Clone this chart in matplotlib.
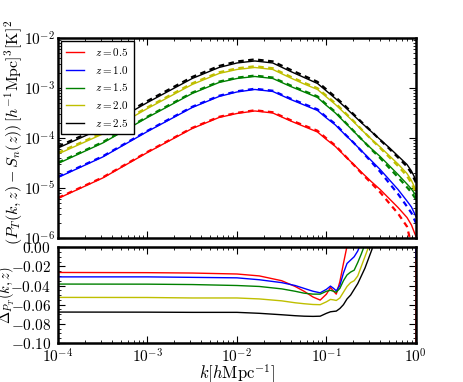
import numpy as np
import matplotlib
matplotlib.use("Agg")
import matplotlib.pyplot as plt
from matplotlib.ticker import FuncFormatter, LogLocator, MultipleLocator, NullFormatter

plt.rcParams["mathtext.fontset"] = "cm"
plt.rcParams["xtick.direction"] = "in"
plt.rcParams["ytick.direction"] = "in"
plt.rcParams["xtick.top"] = True
plt.rcParams["ytick.right"] = True

redshifts = ["0.5", "1.0", "1.5", "2.0", "2.5"]
colors = ["r", "b", "g", "y", "k"]

# top panel, log10(k) and log10(P_T - S_n)
logk_top = [-4.0, -3.5, -3.0, -2.5, -2.2, -2.0, -1.8, -1.6, -1.4, -1.25, -1.1, -1.0,
            -0.9, -0.8, -0.7, -0.6, -0.5, -0.4, -0.3, -0.2, -0.1, -0.05, 0.0]

p_z05 = [-5.21, -4.80, -4.29, -3.81, -3.59, -3.51, -3.46, -3.50, -3.66, -3.77, -3.88, -4.03,
         -4.17, -4.35, -4.52, -4.70, -4.87, -5.03, -5.21, -5.39, -5.59, -5.74, -5.97]
p_z10 = [-4.79, -4.38, -3.87, -3.39, -3.17, -3.08, -3.03, -3.07, -3.23, -3.34, -3.45, -3.60,
         -3.74, -3.92, -4.09, -4.27, -4.45, -4.63, -4.83, -5.03, -5.26, -5.38, -5.57]
p_z15 = [-4.51, -4.10, -3.59, -3.11, -2.89, -2.81, -2.77, -2.81, -2.97, -3.08, -3.19, -3.35,
         -3.50, -3.68, -3.86, -4.04, -4.21, -4.37, -4.55, -4.73, -4.92, -5.02, -5.15]
p_z20 = [-4.32, -3.92, -3.41, -2.93, -2.71, -2.63, -2.59, -2.63, -2.80, -2.92, -3.03, -3.18,
         -3.33, -3.50, -3.67, -3.85, -4.02, -4.18, -4.35, -4.52, -4.71, -4.85, -5.04]
p_z25 = [-4.20, -3.80, -3.29, -2.81, -2.59, -2.50, -2.46, -2.50, -2.67, -2.79, -2.91, -3.06,
         -3.21, -3.37, -3.54, -3.71, -3.87, -4.03, -4.19, -4.36, -4.53, -4.66, -4.84]

# reference (dashed) curves
pref_z05 = [-5.198, -4.788, -4.278, -3.798, -3.577, -3.497, -3.446, -3.485, -3.643, -3.749, -3.855, -4.009,
            -4.150, -4.341, -4.529, -4.72, -4.90, -5.085, -5.30, -5.51, -5.77, -6.14, -6.67]
pref_z10 = [-4.776, -4.366, -3.856, -3.376, -3.156, -3.066, -3.015, -3.055, -3.213, -3.32, -3.428, -3.582,
            -3.72, -3.911, -4.087, -4.279, -4.475, -4.675, -4.90, -5.12, -5.37, -5.50, -5.70]
pref_z15 = [-4.493, -4.083, -3.573, -3.093, -2.873, -2.793, -2.752, -2.791, -2.95, -3.06, -3.168, -3.33,
            -3.479, -3.667, -3.851, -4.038, -4.225, -4.40, -4.595, -4.785, -4.985, -5.09, -5.225]
pref_z20 = [-4.297, -3.897, -3.387, -2.907, -2.687, -2.607, -2.566, -2.605, -2.775, -2.895, -3.004, -3.156,
            -3.305, -3.48, -3.655, -3.843, -4.025, -4.20, -4.38, -4.56, -4.76, -4.905, -5.10]
pref_z25 = [-4.17, -3.77, -3.26, -2.78, -2.56, -2.47, -2.429, -2.468, -2.637, -2.757, -2.877, -3.03,
            -3.18, -3.343, -3.52, -3.695, -3.863, -4.04, -4.21, -4.39, -4.57, -4.705, -4.89]

# bottom panel, relative difference
logk_bot = [-4.0, -3.0, -2.5, -2.0, -1.75, -1.5, -1.35, -1.25, -1.15, -1.07, -1.0, -0.955, -0.92,
            -0.89, -0.85, -0.81, -0.77, -0.73, -0.69, -0.65, -0.61, -0.57, -0.53, -0.49, -0.4,
            -0.2, -0.05, -0.01, 0.0]

d_z05 = [-0.0264, -0.0266, -0.027, -0.028, -0.030, -0.035, -0.041, -0.046, -0.052, -0.0552, -0.049,
         -0.042, -0.046, -0.049, -0.036, -0.017, 0.001, 0.03, 0.05, 0.07, 0.09, 0.11, 0.13, 0.15, 0.2,
         0.3, 0.6, 1.0, -0.11]
d_z10 = [-0.031, -0.031, -0.0315, -0.032, -0.034, -0.037, -0.040, -0.043, -0.046, -0.0476, -0.044,
         -0.0406, -0.043, -0.0455, -0.040, -0.027, -0.017, -0.0135, -0.010, -0.004, 0.005, 0.02, 0.04,
         0.06, 0.1, 0.2, 0.4, 0.8, -0.012]
d_z15 = [-0.0385, -0.0386, -0.039, -0.040, -0.041, -0.0435, -0.046, -0.048, -0.049, -0.049, -0.046,
         -0.045, -0.046, -0.047, -0.043, -0.035, -0.029, -0.026, -0.024, -0.016, -0.007, 0.003, 0.02,
         0.04, 0.08, 0.15, 0.3, 0.6, 0.5]
d_z20 = [-0.0524, -0.0525, -0.053, -0.053, -0.054, -0.056, -0.058, -0.059, -0.0598, -0.060, -0.057,
         -0.0545, -0.055, -0.0556, -0.053, -0.047, -0.041, -0.037, -0.035, -0.030, -0.020, -0.010, 0.0,
         0.015, 0.06, 0.12, 0.25, 0.5, 0.4]
d_z25 = [-0.0677, -0.0678, -0.068, -0.068, -0.069, -0.0705, -0.0715, -0.072, -0.0722, -0.072, -0.069,
         -0.0674, -0.067, -0.0667, -0.064, -0.060, -0.054, -0.050, -0.044, -0.038, -0.030, -0.022,
         -0.012, -0.002, 0.04, 0.1, 0.2, 0.4, 0.3]

solid = [p_z05, p_z10, p_z15, p_z20, p_z25]
dashed = [pref_z05, pref_z10, pref_z15, pref_z20, pref_z25]
deltas = [d_z05, d_z10, d_z15, d_z20, d_z25]

fig = plt.figure(figsize=(4.63, 3.82), dpi=100)
ax1 = fig.add_axes([0.1253, 0.377, 0.773, 0.5236])
ax2 = fig.add_axes([0.1253, 0.102, 0.773, 0.251])

k_top = 10 ** np.array(logk_top)
k_bot = 10 ** np.array(logk_bot)

for i, z in enumerate(redshifts):
    # dashed reference first, simulated curve on top
    ax1.plot(k_top, 10 ** np.array(dashed[i]), color=colors[i], lw=1.6, ls="--",
             dashes=(2.5, 2.0))
    ax1.plot(k_top, 10 ** np.array(solid[i]), color=colors[i], lw=1.0,
             label=r"$z = %s$" % z)
    ax2.plot(k_bot, deltas[i], color=colors[i], lw=1.0)

log_fmt = FuncFormatter(lambda v, pos: r"$10^{%d}$" % int(round(np.log10(v))))

for ax in (ax1, ax2):
    ax.set_xscale("log")
    ax.set_xlim(1e-4, 1)
    ax.xaxis.set_major_locator(LogLocator(base=10, numticks=10))
    ax.xaxis.set_minor_locator(LogLocator(base=10, subs=np.arange(2, 10), numticks=20))
    ax.xaxis.set_minor_formatter(NullFormatter())
    ax.tick_params(which="major", length=5, width=0.8, labelsize=11)
    ax.tick_params(which="minor", length=2.5, width=0.6)
    for s in ax.spines.values():
        s.set_linewidth(1.8)

ax1.set_yscale("log")
ax1.set_ylim(1e-6, 1e-2)
ax1.yaxis.set_major_locator(LogLocator(base=10, numticks=10))
ax1.yaxis.set_minor_locator(LogLocator(base=10, subs=np.arange(2, 10), numticks=20))
ax1.yaxis.set_minor_formatter(NullFormatter())
ax1.yaxis.set_major_formatter(log_fmt)
ax1.xaxis.set_major_formatter(NullFormatter())
ax1.tick_params(axis="y", which="major", pad=2)
ax1.set_ylabel(r"$(P_T(k,z)-S_n(z))\,[h^{-1}{\rm Mpc}]^3[{\rm K}]^2$", fontsize=11.5)
ax1.yaxis.set_label_coords(-0.092, 0.53)

leg = ax1.legend(loc="upper left", fontsize=8, handlelength=1.6, handletextpad=1.0,
                 borderpad=0.45, labelspacing=0.5, fancybox=False, framealpha=1.0,
                 borderaxespad=0.3)
leg.get_frame().set_edgecolor("k")
leg.get_frame().set_linewidth(1.0)

ax2.set_ylim(-0.10, 0.0)
ax2.yaxis.set_major_locator(MultipleLocator(0.02))
ax2.yaxis.set_minor_locator(MultipleLocator(0.005))
ax2.yaxis.set_major_formatter(FuncFormatter(lambda v, pos: r"$%.2f$" % (0.0 if abs(v) < 1e-9 else v)))
ax2.tick_params(axis="y", which="major", pad=5)
ax2.xaxis.set_major_formatter(log_fmt)
ax2.set_ylabel(r"$\Delta_{P_T}(k,z)$", fontsize=10.5)
ax2.yaxis.set_label_coords(-0.115, 0.5)
ax2.set_xlabel(r"$k[h{\rm Mpc}^{-1}]$", fontsize=12)
ax2.xaxis.set_label_coords(0.5, -0.2)

plt.savefig("out.png", dpi=100)
